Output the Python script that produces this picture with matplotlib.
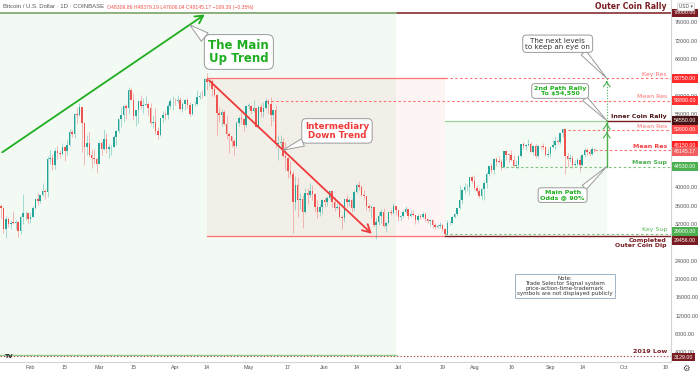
import matplotlib
matplotlib.use("Agg")
import matplotlib.pyplot as plt
import matplotlib.dates as mdates
import matplotlib.transforms as mtransforms
from matplotlib.patches import Rectangle
import numpy as np
import pandas as pd

# ---------------- data (prices in thousands of USD) ----------------
first_day = "2021-01-20"
last_day = "2021-09-19"

open_k = [
    35.99, 35.50, 30.83, 33.00, 32.10, 32.29, 32.26, 32.52, 30.43, 33.47, 34.30, 34.30,
    33.12, 33.54, 35.51, 37.47, 36.93, 38.30, 39.25, 38.90, 46.20, 46.48, 44.85, 47.99, 47.40, 47.17,
    48.70, 47.95, 49.15, 52.15, 51.68, 55.90, 55.84, 57.41, 54.09, 48.89, 49.70, 47.09, 46.34, 46.19,
    45.14, 49.63, 48.38, 50.54, 48.37, 48.76, 48.88, 50.97, 52.38, 54.88, 55.86, 57.80, 57.22, 61.18,
    59.00, 55.60, 56.90, 58.91, 57.65, 58.03, 58.10, 57.35, 54.10, 54.34, 52.30, 51.30, 55.07, 55.84,
    55.78, 57.63, 58.73,
    58.79, 58.74, 58.97, 57.06, 58.20, 59.12, 58.02, 55.95, 58.08, 58.10, 59.77, 60.00, 59.86, 63.58,
    62.97, 63.22, 61.38, 60.02, 56.15, 55.66, 56.47, 53.80, 51.70, 51.15, 50.11, 49.07, 54.02, 55.04,
    54.88, 53.58,
    57.80, 57.83, 56.62, 57.20, 53.24, 57.52, 56.44, 57.37, 58.90, 58.23, 55.86, 56.75, 49.50, 49.70,
    49.90, 46.76, 46.45, 43.54, 42.90, 36.70, 40.60, 37.30, 37.53, 34.70, 38.70, 38.40, 39.30, 38.45,
    35.70, 34.60, 35.70,
    37.30, 36.70, 37.58, 39.19, 36.85, 35.52, 35.80, 33.56, 33.40, 37.39, 36.70, 37.34, 35.55, 39.02,
    40.52, 40.15, 38.35, 38.09, 35.82, 35.48, 35.60, 31.68, 32.50, 33.69, 34.66, 31.62, 32.24, 34.67,
    34.44, 35.87,
    35.04, 33.56, 33.84, 34.70, 35.30, 33.72, 34.23, 33.86, 32.88, 33.81, 33.50, 34.26, 33.10, 32.70,
    32.82, 31.78, 31.40, 31.53, 31.78, 30.84, 29.79, 32.14, 32.30, 33.60, 34.29, 35.40, 37.28, 39.46,
    40.00, 40.02, 42.20,
    41.46, 39.85, 39.15, 38.20, 39.72, 40.87, 42.83, 44.61, 43.82, 46.28, 45.60, 45.55, 44.42, 47.83,
    47.10, 47.04, 45.97, 44.70, 44.80, 46.76, 49.34, 48.90, 49.30, 49.52, 47.70, 48.97, 46.85, 49.07,
    48.90, 48.83, 47.05,
    47.17, 48.85, 49.28, 50.00, 49.94, 51.77, 52.69, 46.86, 46.08, 46.37, 44.85, 45.16, 46.06, 44.96,
    47.10, 48.15, 47.76, 47.30, 48.31,
]
high_k = [
    36.40, 35.60, 33.83, 33.45, 32.95, 34.88, 32.95, 32.56, 33.78, 38.53, 34.93, 34.35,
    34.72, 35.97, 37.66, 38.70, 38.30, 40.96, 39.72, 46.80, 48.20, 47.31, 48.67, 48.90, 48.16, 49.72,
    49.00, 50.63, 52.62, 52.55, 56.30, 57.53, 58.35, 57.53, 54.18, 51.36, 52.04, 48.42, 48.38, 46.64,
    49.79, 50.20, 52.64, 51.80, 49.45, 49.20, 51.45, 52.40, 54.90, 57.40, 58.00, 58.10, 61.79, 61.60,
    60.60, 56.95, 58.98, 60.08, 59.45, 59.90, 58.59, 58.42, 55.85, 57.20, 53.25, 55.10, 56.60, 56.56,
    58.40, 59.37, 59.80,
    59.47, 60.03, 59.76, 58.50, 59.25, 59.46, 58.65, 58.15, 58.90, 61.19, 60.68, 61.30, 63.77, 64.90,
    63.80, 63.60, 62.50, 60.40, 57.55, 57.10, 56.83, 55.45, 52.10, 51.20, 50.54, 54.37, 55.45, 56.43,
    55.20, 58.00,
    58.48, 57.95, 58.95, 57.20, 57.90, 58.40, 58.68, 59.50, 59.28, 59.58, 56.90, 58.00, 51.39, 51.50,
    50.70, 49.80, 46.57, 45.80, 43.55, 42.45, 42.20, 38.85, 38.30, 39.90, 39.80, 40.84, 40.40, 38.85,
    37.30, 36.40, 37.50,
    37.90, 38.20, 39.48, 39.25, 37.90, 36.50, 36.80, 34.06, 37.50, 38.40, 37.70, 37.45, 39.38, 41.00,
    41.32, 40.50, 39.50, 38.20, 36.45, 36.10, 35.75, 33.30, 34.85, 35.25, 35.50, 32.70, 34.70, 35.30,
    36.60, 36.00,
    35.04, 33.95, 34.95, 35.95, 35.30, 35.10, 35.05, 33.90, 34.10, 34.26, 34.60, 34.66, 33.33, 33.10,
    33.20, 32.25, 31.95, 32.40, 31.90, 31.05, 32.85, 32.60, 33.65, 34.50, 35.40, 40.55, 39.55, 40.90,
    40.62, 42.32, 42.42,
    42.60, 40.45, 39.77, 39.95, 41.40, 43.40, 44.70, 45.30, 46.45, 46.70, 46.75, 46.20, 47.90, 48.15,
    47.40, 48.05, 47.15, 46.00, 47.05, 49.40, 49.80, 49.50, 50.50, 49.85, 49.20, 49.35, 49.20, 49.30,
    49.65, 48.90, 48.25,
    49.10, 50.40, 51.05, 50.55, 51.90, 52.80, 52.90, 47.40, 47.35, 47.00, 45.99, 46.45, 46.90, 47.25,
    48.50, 48.50, 48.15, 48.80, 48.38,
]
low_k = [
    33.40, 30.07, 28.85, 31.40, 30.90, 32.06, 30.83, 29.24, 29.86, 31.92, 32.84, 32.30,
    32.30, 33.42, 35.38, 36.20, 36.60, 38.15, 37.36, 37.99, 45.00, 43.73, 43.98, 46.25, 46.30, 47.03,
    45.73, 47.05, 48.95, 50.91, 50.75, 53.96, 55.48, 47.63, 44.89, 47.02, 46.67, 44.14, 45.05, 43.02,
    45.02, 47.10, 48.12, 47.50, 46.30, 47.12, 48.88, 49.33, 51.85, 53.05, 54.27, 54.95, 56.08, 58.97,
    54.60, 53.28, 54.12, 57.08, 56.30, 57.87, 55.50, 53.65, 53.00, 51.70, 50.43, 51.28, 54.00, 54.70,
    54.90, 57.02, 56.87,
    57.94, 58.46, 56.95, 56.50, 56.80, 57.38, 55.46, 55.75, 57.66, 57.90, 59.23, 59.40, 59.86, 61.30,
    62.02, 60.00, 59.58, 51.30, 54.25, 53.40, 53.60, 50.45, 47.50, 48.75, 47.00, 48.85, 53.31, 53.87,
    52.36, 53.06,
    57.05, 56.05, 56.47, 53.06, 52.90, 55.25, 55.30, 56.97, 56.25, 53.40, 54.43, 48.60, 46.00, 48.80,
    46.65, 43.83, 42.10, 42.25, 30.00, 35.00, 33.50, 35.25, 31.11, 34.40, 36.40, 37.80, 37.20, 34.70,
    33.40, 33.65, 34.20,
    35.70, 35.90, 37.20, 35.60, 34.80, 35.28, 33.30, 31.00, 32.40, 35.80, 35.90, 34.60, 34.75, 38.75,
    39.50, 38.10, 37.40, 35.15, 34.83, 33.35, 31.25, 28.80, 31.70, 32.30, 31.30, 30.20, 32.00, 33.90,
    34.25, 34.00,
    32.70, 32.70, 33.30, 34.40, 33.15, 33.55, 33.80, 32.10, 32.26, 33.00, 33.33, 32.65, 32.25, 31.60,
    31.20, 31.00, 31.18, 31.10, 30.45, 29.28, 29.50, 31.70, 32.00, 33.40, 33.85, 35.26, 36.40, 38.80,
    39.20, 38.30, 41.00,
    39.45, 38.70, 37.65, 37.50, 37.33, 39.90, 42.45, 43.10, 42.85, 44.60, 45.35, 43.75, 44.20, 45.95,
    45.55, 45.65, 44.40, 44.20, 43.95, 46.65, 48.30, 48.10, 49.05, 47.60, 47.15, 46.35, 46.40, 48.40,
    48.30, 46.90, 46.70,
    46.55, 48.65, 48.40, 49.50, 49.50, 50.95, 42.80, 44.45, 45.50, 44.15, 44.75, 44.75, 43.40, 44.70,
    46.70, 47.00, 46.75, 47.10, 47.61,
]
close_k = [
    35.50, 30.83, 33.00, 32.10, 32.29, 32.26, 32.52, 30.43, 33.47, 34.30, 34.30, 33.12,
    33.54, 35.51, 37.47, 36.93, 38.30, 39.25, 38.90, 46.20, 46.48, 44.85, 47.99, 47.40, 47.17, 48.70,
    47.95, 49.15, 52.15, 51.68, 55.90, 55.84, 57.41, 54.09, 48.89, 49.70, 47.09, 46.34, 46.19, 45.14,
    49.63, 48.38, 50.54, 48.37, 48.76, 48.88, 50.97, 52.38, 54.88, 55.86, 57.80, 57.22, 61.18, 59.00,
    55.60, 56.90, 58.91, 57.65, 58.03, 58.10, 57.35, 54.10, 54.34, 52.30, 51.30, 55.07, 55.84, 55.78,
    57.63, 58.73, 58.79,
    58.74, 58.97, 57.06, 58.20, 59.12, 58.02, 55.95, 58.08, 58.10, 59.77, 60.00, 59.86, 63.58, 62.97,
    63.22, 61.38, 60.02, 56.15, 55.66, 56.47, 53.80, 51.70, 51.15, 50.11, 49.07, 54.02, 55.04, 54.88,
    53.58, 57.80,
    57.83, 56.62, 57.20, 53.24, 57.52, 56.44, 57.37, 58.90, 58.23, 55.86, 56.75, 49.50, 49.70, 49.90,
    46.76, 46.45, 43.54, 42.90, 36.70, 40.60, 37.30, 37.53, 34.70, 38.70, 38.40, 39.30, 38.45, 35.70,
    34.60, 35.70, 37.30,
    36.70, 37.58, 39.19, 36.85, 35.52, 35.80, 33.56, 33.40, 37.39, 36.70, 37.34, 35.55, 39.02, 40.52,
    40.15, 38.35, 38.09, 35.82, 35.48, 35.60, 31.68, 32.50, 33.69, 34.66, 31.62, 32.24, 34.67, 34.44,
    35.87, 35.04,
    33.56, 33.84, 34.70, 35.30, 33.72, 34.23, 33.86, 32.88, 33.81, 33.50, 34.26, 33.10, 32.70, 32.82,
    31.78, 31.40, 31.53, 31.78, 30.84, 29.79, 32.14, 32.30, 33.60, 34.29, 35.40, 37.28, 39.46, 40.00,
    40.02, 42.20, 41.46,
    39.85, 39.15, 38.20, 39.72, 40.87, 42.83, 44.61, 43.82, 46.28, 45.60, 45.55, 44.42, 47.83, 47.10,
    47.04, 45.97, 44.70, 44.80, 46.76, 49.34, 48.90, 49.30, 49.52, 47.70, 48.97, 46.85, 49.07, 48.90,
    48.83, 47.05, 47.17,
    48.85, 49.28, 50.00, 49.94, 51.77, 52.69, 46.86, 46.08, 46.37, 44.85, 45.16, 46.06, 44.96, 47.10,
    48.15, 47.76, 47.30, 48.31, 48.15,
]

# key levels
outer_rally = 78000.0
key_res = 63750.0
mean_res_hi = 58890.0
inner_rally = 54550.0
mean_res_mid = 52600.0
mean_res_lo = 48150.0
last_price = 48145.17
mean_sup = 44530.0
key_sup = 29900.0
outer_dip = 29456.0
low_2019 = 3129.0

# dates of drawn structures
peak_day = "2021-04-14"
dip_day = "2021-07-20"
trend_end_day = "2021-06-21"
up_zone_end = "2021-06-30"
target_day = "2021-09-24"
mean_res_hi_from = "2021-05-08"
mean_res_mid_from = "2021-09-06"
mean_res_lo_from = "2021-09-15"
mean_sup_from = "2021-08-12"

yticks_shown = [76000, 72000, 68000, 60000, 56000, 40000, 36000, 32000,
                24000, 20000, 16000, 12000, 8000, 4000]
xtick_dates = ["2021-02-01", "2021-02-15", "2021-03-01", "2021-03-15", "2021-04-01",
               "2021-04-14", "2021-05-01", "2021-05-17", "2021-06-01", "2021-06-14",
               "2021-07-01", "2021-07-19", "2021-08-01", "2021-08-16", "2021-09-01",
               "2021-09-14", "2021-10-01", "2021-10-18"]
xtick_labels = ["Feb", "15", "Mar", "15", "Apr", "14", "May", "17", "Jun", "14",
                "Jul", "19", "Aug", "16", "Sep", "14", "Oct", "18"]

# ---------------- styling ----------------
UP = "#26a69a"
DOWN = "#ef5350"
RED = "#f44040"
LRED = "#ff7070"
DARKRED = "#7a1d22"
MAROON = "#4a1414"
GREEN = "#4caf50"
BGREEN = "#1fae1f"
NUMFONT = "Liberation Sans"

dates = pd.date_range(first_day, last_day, freq="D")
o = np.array(open_k) * 1000
h = np.array(high_k) * 1000
l = np.array(low_k) * 1000
c = np.array(close_k) * 1000
assert len(o) == len(h) == len(l) == len(c) == len(dates)

d = lambda s: mdates.date2num(pd.Timestamp(s))
xd = mdates.date2num(dates)

fig = plt.figure(figsize=(7, 3.75), dpi=100)
ax = fig.add_axes([0, 13 / 375, 671 / 700, 362 / 375])
feb1 = d("2021-02-01")
x_left, x_right = feb1 - 12.4, feb1 + 261.2
ax.set_xlim(x_left, x_right)
ax.set_ylim(1918, 80834)

# zones
ax.add_patch(Rectangle((x_left - 5, low_2019), d(up_zone_end) - x_left + 5, outer_rally - low_2019,
                       facecolor=GREEN, alpha=0.065, edgecolor="none", zorder=0))
ax.add_patch(Rectangle((d(peak_day), outer_dip), d(dip_day) - d(peak_day), key_res - outer_dip,
                       facecolor="#e8564a", alpha=0.06, edgecolor="none", zorder=0))
ax.add_patch(Rectangle((d(dip_day), key_sup), d(target_day) - d(dip_day), inner_rally - key_sup,
                       facecolor=GREEN, alpha=0.06, edgecolor="none", zorder=0))

# level lines
dash = (0, (2.2, 2.2))
ax.plot([x_left, x_right], [outer_rally] * 2, color=DARKRED, lw=1.1, zorder=1)
ax.plot([x_left, d(up_zone_end)], [outer_rally] * 2, color="#8fcf8f", lw=1.1, zorder=1.5)
ax.plot([x_left, d(up_zone_end)], [low_2019 + 350] * 2, color="#8fcf8f", lw=1.0, zorder=1.5)
ax.plot([d(peak_day), d(dip_day)], [key_res] * 2, color=LRED, lw=0.9, zorder=2)
ax.plot([d(dip_day), x_right], [key_res] * 2, color=LRED, lw=0.8, ls=dash, zorder=2)
ax.plot([d(mean_res_hi_from), x_right], [mean_res_hi] * 2, color=LRED, lw=0.8, ls=dash, zorder=2)
ax.plot([d(dip_day), d(target_day)], [inner_rally] * 2, color="#9ccf9c", lw=0.9, zorder=2)
ax.plot([d(target_day), x_right], [inner_rally] * 2, color=DARKRED, lw=1.0, zorder=2)
ax.plot([d(mean_res_mid_from), x_right], [mean_res_mid] * 2, color=LRED, lw=0.8, ls=dash, zorder=2)
ax.plot([d(mean_res_lo_from), x_right], [mean_res_lo] * 2, color=LRED, lw=0.8, ls=dash, zorder=2)
ax.plot([d(mean_sup_from), x_right], [mean_sup] * 2, color="#7cc47c", lw=0.8, ls=dash, zorder=2)
ax.plot([d(dip_day), x_right], [key_sup] * 2, color="#7cc47c", lw=0.8, ls=dash, zorder=2)
ax.plot([d(peak_day), d(dip_day)], [outer_dip] * 2, color=LRED, lw=0.9, zorder=2)
ax.plot([d(dip_day), x_right], [outer_dip] * 2, color=DARKRED, lw=1.0, zorder=2)
ax.plot([x_left, x_right], [low_2019] * 2, color="#b04848", lw=0.8, ls=(0, (1.2, 1.8)), zorder=3)

# candles
up = c >= o
col = np.where(up, UP, DOWN)
ax.vlines(xd, l, h, colors=col, lw=0.6, alpha=0.45, zorder=4)
body = np.maximum(np.abs(c - o), 120)
ax.bar(xd, body, bottom=np.minimum(o, c), width=0.62, color=col, lw=0, zorder=5)

# trend arrows
ax.annotate("", xy=(d(peak_day), outer_rally), xytext=(x_left, 47300),
            arrowprops=dict(arrowstyle="->,head_length=0.55,head_width=0.3", color=BGREEN, lw=1.3),
            zorder=6)
ax.annotate("", xy=(d(trend_end_day), outer_dip), xytext=(d(peak_day), key_res),
            arrowprops=dict(arrowstyle="->,head_length=0.55,head_width=0.3", color="#f03a3a", lw=1.3),
            zorder=6)

# target path at right
tx = d(target_day)
ax.plot([tx, tx], [mean_sup, inner_rally], color=GREEN, lw=1.0, zorder=6)
ax.plot([tx, tx], [inner_rally, key_res], color=GREEN, lw=0.8, ls=(0, (1, 1.5)), zorder=6)
for lvl in (inner_rally, mean_res_mid, key_res):
    ax.annotate("", xy=(tx, lvl), xytext=(tx, lvl - 1500),
                arrowprops=dict(arrowstyle="->,head_length=0.35,head_width=0.25", color=GREEN, lw=0.8),
                zorder=6)

# callouts
def callout(text, xy, xytext, color, size, relpos, weight="bold"):
    ax.annotate(text, xy=xy, xytext=xytext, ha="center", va="center", fontsize=size,
                fontweight=weight, color=color, linespacing=1.05, zorder=8,
                bbox=dict(boxstyle="round,pad=0.35,rounding_size=0.5", fc="white", ec="#9a9a9a", lw=0.7),
                arrowprops=dict(arrowstyle="wedge,tail_width=0.9,shrink_factor=0.5", fc="white",
                                ec="#9a9a9a", lw=0.7, relpos=relpos, shrinkA=0, shrinkB=0))

callout("The Main\nUp Trend", (d("2021-04-07"), 75400), (d("2021-04-27"), 69500), BGREEN, 8.5, (0.05, 0.85))
callout("Intermediary\nDown Trend", (d("2021-05-15"), 48100), (d("2021-06-06"), 52300), "#f03a3a", 6.3, (0.1, 0.05))
callout("The next levels\nto keep an eye on", (tx, key_res), (d("2021-09-04"), 71300), "#333333", 5.2, (0.85, 0.05), "normal")
callout("2nd Path Rally\nTo $54,550", (tx, inner_rally), (d("2021-09-05"), 61000), BGREEN, 4.6, (0.9, 0.1))
callout("Main Path\nOdds @ 90%", (tx, mean_sup), (d("2021-09-06"), 38300), BGREEN, 4.6, (0.9, 0.9))

ax.text(d("2021-09-07"), 18500,
        "Note:\nTrade Selector Signal system\nprice-action-time-trademark\nsymbols are not displayed publicly",
        ha="center", va="center", fontsize=4.0, color="#333333", linespacing=1.0, zorder=8,
        bbox=dict(boxstyle="square,pad=0.4", fc="white", ec="#9fb3c8", lw=0.7))

# right-side level names
tr = mtransforms.blended_transform_factory(ax.transAxes, ax.transData)
names = [
    ("Outer Coin Rally", outer_rally, DARKRED, 5.6, "bold", 1.5, "bottom"),
    ("Key Res", key_res, LRED, 4.5, "normal", 1.0, "bottom"),
    ("Mean Res", mean_res_hi, LRED, 4.5, "normal", 1.0, "bottom"),
    ("Inner Coin Rally", inner_rally, MAROON, 4.5, "bold", 1.0, "bottom"),
    ("Mean Res", mean_res_mid, LRED, 4.5, "normal", 0.5, "bottom"),
    ("Mean Res", mean_res_lo, RED, 4.5, "bold", 1.0, "bottom"),
    ("Mean Sup", mean_sup, GREEN, 4.5, "bold", 1.0, "bottom"),
    ("Key Sup", key_sup, "#5cb85c", 4.5, "normal", 1.0, "bottom"),
    ("Completed\nOuter Coin Dip", outer_dip, DARKRED, 4.5, "bold", -1.5, "top"),
    ("2019 Low", low_2019, DARKRED, 4.6, "bold", 1.5, "bottom"),
]
for txt, v, colr, fs, fw, dy, va in names:
    ax.annotate(txt, xy=(0.994, v), xycoords=tr, xytext=(0, dy), textcoords="offset points",
                ha="right", va=va, fontsize=fs, fontweight=fw, color=colr, linespacing=1.0, zorder=9)

# price-scale tags
tags = [
    (outer_rally, DARKRED, 0), (key_res, "#ff2b2b", 0), (mean_res_hi, "#ff3030", 0),
    (inner_rally, MAROON, 0), (mean_res_mid, "#ff4545", 0), (mean_res_lo, "#ff2020", 3.2),
    (last_price, "#f06060", -1.0), (mean_sup, GREEN, 0), (key_sup, GREEN, 1.5),
    (outer_dip, DARKRED, -3.5), (low_2019, DARKRED, -0.5),
]
for v, colr, dy in tags:
    ax.annotate(f"{v:.2f}", xy=(1.0, v), xycoords=tr, xytext=(2.2, dy), textcoords="offset points",
                ha="left", va="center", fontsize=3.8, family=NUMFONT, color="white",
                annotation_clip=False, zorder=10,
                bbox=dict(boxstyle="square,pad=0.35", fc=colr, ec="none"))

# axes
ax.yaxis.tick_right()
ax.set_yticks(yticks_shown)
ax.set_yticklabels([f"{t:.2f}" for t in yticks_shown], family=NUMFONT)
ax.set_xticks([d(s) for s in xtick_dates])
ax.set_xticklabels(xtick_labels, family=NUMFONT)
ax.tick_params(axis="both", length=0, labelsize=3.9, colors="#555555")
ax.tick_params(axis="y", pad=3.0)
ax.tick_params(axis="x", pad=2.5)
for s in ("top", "left"):
    ax.spines[s].set_visible(False)
for s in ("bottom", "right"):
    ax.spines[s].set_color("#d4d4d4")
    ax.spines[s].set_linewidth(0.8)

# header and decorations
fig.text(3 / 700, 1 - 7 / 375, "Bitcoin / U.S. Dollar · 1D · COINBASE", fontsize=4.3,
         family=NUMFONT, color="#555555", va="center", ha="left")
fig.text(107 / 700, 1 - 7 / 375, "O48309.86 H48379.19 L47606.04 C48145.17 −169.39 (−0.35%)",
         fontsize=3.7, family=NUMFONT, color="#ef5350", va="center", ha="left")
fig.text(686 / 700, 1 - 7 / 375, "USD ▾", fontsize=3.4, color="#555555", va="center", ha="center",
         bbox=dict(boxstyle="round,pad=0.3", fc="white", ec="#cccccc", lw=0.5))
fig.text(686 / 700, 1 - 368 / 375, "⚙", fontsize=6, color="#444444", va="center", ha="center")
fig.text(9 / 700, 1 - 357 / 375, "TV", fontsize=4.2, fontweight="bold", color="#222222",
         va="center", ha="center")

fig.savefig("out.png", dpi=100)
